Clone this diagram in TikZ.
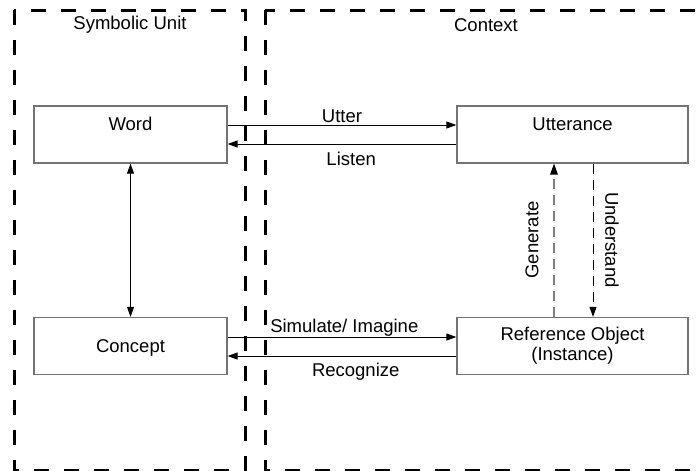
\documentclass[tikz,border=0pt]{standalone}
\usepackage{fontspec}
\setmainfont{Liberation Sans}
\usetikzlibrary{arrows.meta}
\begin{document}
\begin{tikzpicture}[x=1pt,y=-1pt,
  font=\fontsize{18.5}{21}\selectfont,
  zone/.style={draw=black, line width=3pt, dash pattern=on 15pt off 15pt},
  box/.style={draw=black!55, line width=1.3pt, minimum width=193pt, minimum height=57pt, inner sep=0pt, align=center},
  arr/.style={draw=black, line width=0.9pt, -{Triangle[length=10pt,width=7pt]}},
  darr/.style={draw=black, line width=0.9pt, {Triangle[length=10pt,width=7pt]}-{Triangle[length=10pt,width=7pt]}},
  lbl/.style={inner sep=0pt}]
\useasboundingbox (0,0) rectangle (699,471);
\clip (0,0) rectangle (699,471);
% zones
\draw[zone] (14,10) rectangle (245,470);
\draw[zone] (265,10) rectangle (740,470);
\node[lbl] (symt) at (130,25) {Symbolic Unit};
\node[lbl] (ctxt) at (486,25) {Context};
% boxes
\node[box, text depth=20.5pt] (word) at (130.5,134.5) {Word};
\node[box, text depth=20.5pt, minimum width=231pt] (utt) at (572.5,134.5) {Utterance};
\node[box, text depth=0pt] (concept) at (130.5,346) {Concept};
\node[box, minimum width=231pt, font=\fontsize{18.5}{20}\selectfont] (ref) at (572.5,346) {Reference Object\\(Instance)};
% horizontal arrows
\draw[arr] ([yshift=9.5pt]word.east) -- ([yshift=9.5pt]word.east -| utt.west)
  node[lbl, pos=0.5, anchor=base, yshift=3pt] (uttl) {Utter};
\draw[arr] ([yshift=-9.5pt]utt.west) -- ([yshift=-9.5pt]utt.west -| word.east)
  node[lbl, pos=0.46, anchor=base, yshift=-21pt] (lisl) {Listen};
\draw[arr] ([yshift=9pt]concept.east) -- ([yshift=9pt]concept.east -| ref.west)
  node[lbl, pos=0.51, anchor=base, yshift=5pt] (siml) {Simulate/ Imagine};
\draw[arr] ([yshift=-10pt]ref.west) -- ([yshift=-10pt]ref.west -| concept.east)
  node[lbl, pos=0.44, anchor=base, yshift=-20.5pt] (recl) {Recognize};
% vertical arrows
\draw[darr] (word.south) -- (concept.north);
\draw[draw=black!50, line width=1.3pt, dash pattern=on 10pt off 6pt, -{Triangle[length=11pt,width=8pt,color=black,line width=0pt]}]
  ([xshift=-18.5pt]ref.north) -- ([xshift=-18.5pt]utt.south);
\draw[draw=black, line width=0.9pt, dash pattern=on 10pt off 6pt, -{Triangle[length=10pt,width=7pt]}]
  ([xshift=20.5pt]utt.south) -- ([xshift=20.5pt]ref.north);
\node[lbl, rotate=90] (genl) at (532,240) {Generate};
\node[lbl, rotate=-90] (undl) at (612,240) {Understand};
\end{tikzpicture}
\end{document}
